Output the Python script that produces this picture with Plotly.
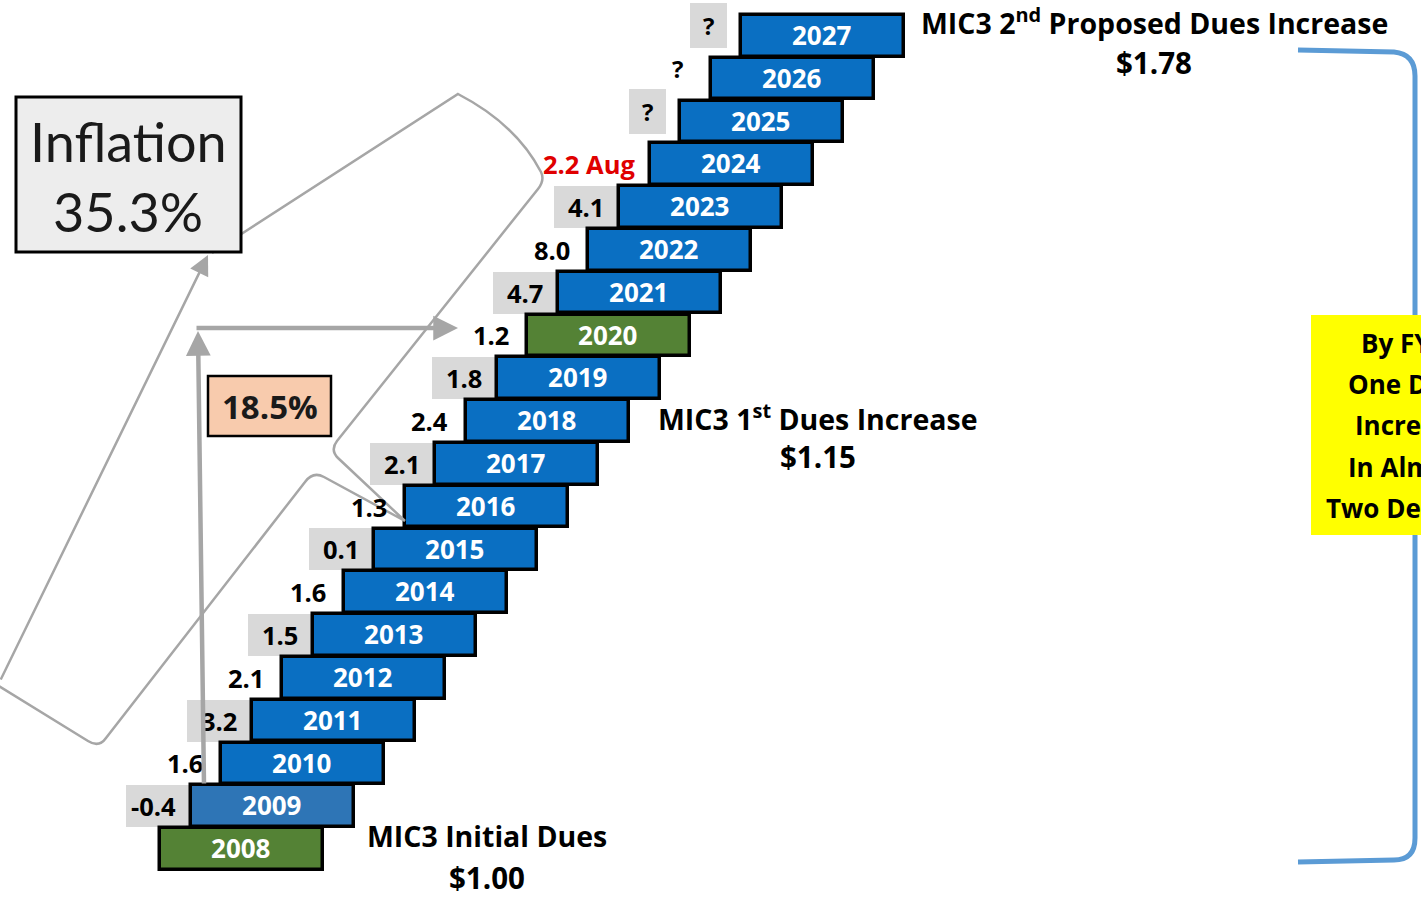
import plotly.graph_objects as go

# ---------------- data ----------------
years = list(range(2008, 2028))
inflation_labels = ["", "-0.4", "1.6", "3.2", "2.1", "1.5", "1.6", "0.1", "1.3", "2.1",
                    "2.4", "1.8", "1.2", "4.7", "8.0", "4.1", "2.2 Aug", "?", "?", "?"]
shaded_label = [False, True, False, True, False, True, False, True, False, True,
                False, True, False, True, False, True, False, True, False, True]
milestone_years = [2008, 2020, 2027]
milestone_titles = ["MIC3 Initial Dues", "MIC3 1<sup>st</sup> Dues Increase",
                    "MIC3 2<sup>nd</sup> Proposed Dues Increase"]
milestone_dues = [1.00, 1.15, 1.78]
inflation_total = 35.3
inflation_to_2020 = 18.5
callout_lines = ["By FY27", "One Dues", "Increase", "In Almost", "Two Decades"]

# ---------------- layout constants ----------------
W, H = 1421, 897
FONT = "Open Sans"
FONT_REG = "Lato"
BLUE, BLUE_LIGHT, GREEN = "#0a6fc2", "#2e75b6", "#548235"
GRAY_BOX = "#d9d9d9"
LINE_GRAY = "#a6a6a6"
X0, STEP, BAR_W = 160.0, 30.6, 163.0
n = len(years)
lefts = [X0 + STEP * i for i in range(n)]


def py(v):
    return 1 - v / H


fig = go.Figure()

# grey boxes behind alternating inflation labels
nb_years = [y for y, s, t in zip(years, shaded_label, inflation_labels) if s and t != "?"]
nb_base = [lefts[years.index(y)] - 65 for y in nb_years]
fig.add_trace(go.Bar(orientation="h", y=nb_years, x=[65] * len(nb_years), base=nb_base,
                     width=0.98, marker=dict(color=GRAY_BOX, line=dict(width=0)),
                     hoverinfo="skip", showlegend=False))
q_years = [y for y, s, t in zip(years, shaded_label, inflation_labels) if s and t == "?"]
q_base = [lefts[years.index(y)] - 51.5 for y in q_years]
fig.add_trace(go.Bar(orientation="h", y=[y + 0.24 for y in q_years], x=[37] * len(q_years),
                     base=q_base, width=1.05, marker=dict(color=GRAY_BOX, line=dict(width=0)),
                     hoverinfo="skip", showlegend=False))

# main staircase bars
colors = []
for y in years:
    if y in milestone_years[:2]:
        colors.append(GREEN)
    elif y == years[1]:
        colors.append(BLUE_LIGHT)
    else:
        colors.append(BLUE)
fig.add_trace(go.Bar(orientation="h", y=years, x=[BAR_W] * n, base=lefts, width=0.97,
                     marker=dict(color=colors, line=dict(color="black", width=3.5)),
                     text=[str(y) for y in years], textposition="inside",
                     insidetextanchor="middle", textangle=0, constraintext="none",
                     textfont=dict(family=FONT, size=26, color="white", weight="bold"),
                     hoverinfo="skip", showlegend=False))

annotations = []
# inflation labels
for i, (y, t, s) in enumerate(zip(years, inflation_labels, shaded_label)):
    if not t:
        continue
    if t == "?":
        annotations.append(dict(x=lefts[i] - 33, y=y + 0.24, xref="x", yref="y", text=t,
                                showarrow=False, xanchor="center", yanchor="middle",
                                font=dict(family=FONT, size=24, color="black", weight="bold")))
    else:
        col = "#e00000" if "Aug" in t else "black"
        gap = 13 if (s or "Aug" in t) else 16
        annotations.append(dict(x=lefts[i] - gap, y=y, xref="x", yref="y", text=t,
                                showarrow=False, xanchor="right", yanchor="middle",
                                font=dict(family=FONT, size=25.5, color=col, weight="bold")))

# milestone texts
mpos = [(487, 836, 877), (818, 417, 457), (1154, 22, 63)]
for (cx, ty, dy), title, dues in zip(mpos, milestone_titles, milestone_dues):
    annotations.append(dict(x=cx, y=py(ty), xref="x", yref="paper", text=title, showarrow=False,
                            xanchor="center", yanchor="middle",
                            font=dict(family=FONT, size=28.5, color="black", weight="bold")))
    annotations.append(dict(x=cx, y=py(dy), xref="x", yref="paper", text=f"${dues:.2f}",
                            showarrow=False, xanchor="center", yanchor="middle",
                            font=dict(family=FONT, size=29.5, color="black", weight="bold")))

# inflation boxes text
annotations.append(dict(x=128, y=py(141), xref="x", yref="paper", text="Inflation", showarrow=False,
                        xanchor="center", yanchor="middle",
                        font=dict(family=FONT_REG, size=54, color="#1a1a1a")))
annotations.append(dict(x=128, y=py(211), xref="x", yref="paper", text=f"{inflation_total:.1f}%",
                        showarrow=False, xanchor="center", yanchor="middle",
                        font=dict(family=FONT_REG, size=54, color="#1a1a1a")))
annotations.append(dict(x=270, y=py(406), xref="x", yref="paper", text=f"{inflation_to_2020:.1f}%",
                        showarrow=False, xanchor="center", yanchor="middle",
                        font=dict(family=FONT, size=33, color="#1a1a1a", weight="bold")))

# callout (yellow) text
for k, line in enumerate(callout_lines):
    annotations.append(dict(x=1410, y=py(343 + 41.2 * k), xref="x", yref="paper", text=line,
                            showarrow=False, xanchor="center", yanchor="middle",
                            font=dict(family=FONT, size=26, color="black", weight="bold")))

# grey arrows
vx = 204
arrow_specs = [((208, 255), (-4, 681), 2.5), ((vx - 6, 331), (vx, 785), 4.5),
               ((458, 328), (vx - 9, 328), 4.5)]
for (hx, hy), (tx, ty), w in arrow_specs:
    annotations.append(dict(x=hx, y=py(hy), xref="x", yref="paper", ax=tx - hx, ay=ty - hy,
                            axref="pixel", ayref="pixel", text="", showarrow=True, arrowhead=2,
                            arrowsize=1.1 if w > 3 else 1.6, arrowwidth=w, arrowcolor=LINE_GRAY,
                            standoff=0, startstandoff=0))


def path(segments):
    out = []
    for cmd, pts in segments:
        coords = " ".join(f"{x},{py(y):.5f}" for x, y in pts)
        out.append(f"{cmd} {coords}")
    return " ".join(out)


lasso = path([
    ("M", [(212, 253)]), ("L", [(458, 94)]), ("Q", [(516, 124), (541, 172)]),
    ("Q", [(545, 180), (538, 189)]), ("L", [(337, 441)]), ("Q", [(330, 450), (338, 458)]),
    ("L", [(405, 521)]),
    ("M", [(405, 521)]), ("L", [(324, 477)]), ("Q", [(313, 471), (305, 482)]),
    ("L", [(106, 738)]), ("Q", [(99, 748), (88, 741)]), ("L", [(-6, 683)]),
])

bracket = path([
    ("M", [(1298, 50)]), ("L", [(1394, 52)]), ("Q", [(1415, 54), (1415, 76)]),
    ("L", [(1415, 838)]), ("Q", [(1415, 860), (1394, 860)]), ("L", [(1298, 862)]),
])

shapes = [
    dict(type="path", path=lasso, xref="x", yref="paper", line=dict(color=LINE_GRAY, width=2.5),
         fillcolor="rgba(0,0,0,0)", layer="above"),
    dict(type="rect", x0=16, x1=241, y0=py(252), y1=py(97), xref="x", yref="paper",
         fillcolor="#ededed", line=dict(color="black", width=3), layer="above"),
    dict(type="rect", x0=208, x1=331, y0=py(436), y1=py(376), xref="x", yref="paper",
         fillcolor="#f8cbad", line=dict(color="black", width=2.5), layer="above"),
    dict(type="path", path=bracket, xref="x", yref="paper", line=dict(color="#5b9bd5", width=5),
         fillcolor="rgba(0,0,0,0)", layer="above"),
    dict(type="rect", x0=1311, x1=1530, y0=py(535), y1=py(315), xref="x", yref="paper",
         fillcolor="#ffff00", line=dict(width=0), layer="above"),
]

fig.update_layout(
    width=W, height=H, margin=dict(l=0, r=0, t=0, b=0),
    paper_bgcolor="white", plot_bgcolor="white", barmode="overlay", showlegend=False,
    xaxis=dict(range=[0, W], visible=False, fixedrange=True),
    yaxis=dict(range=[2006.8785, 2027.836], visible=False, fixedrange=True),
    shapes=shapes, annotations=annotations, bargap=0,
)

fig.write_html("out.html", config={"displayModeBar": False},
               post_script="document.body.style.margin='0';document.body.style.overflow='hidden';")
